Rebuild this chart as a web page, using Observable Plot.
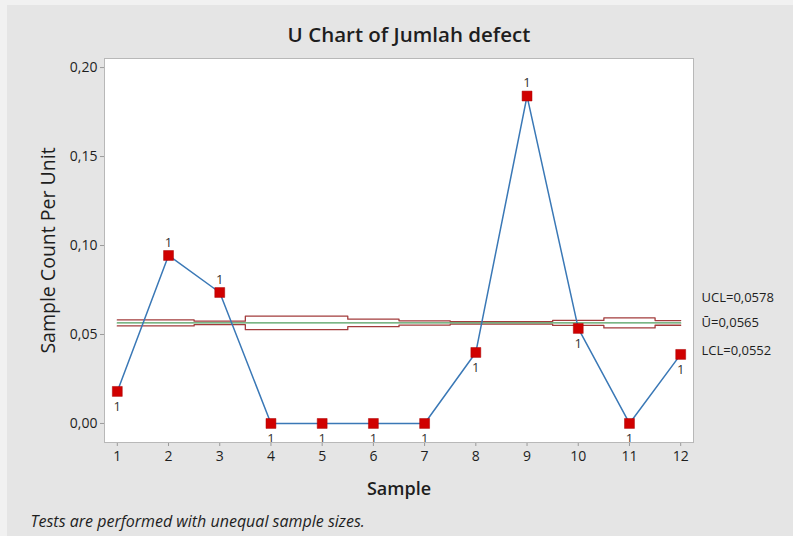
<!DOCTYPE html>
<html>
<head>
<meta charset="utf-8">
<script src="https://cdn.jsdelivr.net/npm/d3@7"></script>
<script src="https://cdn.jsdelivr.net/npm/@observablehq/plot@0.6"></script>
<style>
  html, body { margin: 0; padding: 0; background: #e5e5e5; }
  svg { display: block; }
</style>
</head>
<body>
<div id="chart"></div>
<script>
// ---- data ----
const samples = [1, 2, 3, 4, 5, 6, 7, 8, 9, 10, 11, 12];
const countPerUnit = [0.0180, 0.0944, 0.0736, 0, 0, 0, 0, 0.0399, 0.1840, 0.0534, 0, 0.0388];
const uclValues = [0.0582, 0.0582, 0.0575, 0.0603, 0.0603, 0.0586, 0.0577, 0.0572, 0.0572, 0.0579, 0.0593, 0.0578];
const lclValues = [0.0548, 0.0548, 0.0555, 0.0527, 0.0527, 0.0544, 0.0553, 0.0558, 0.0558, 0.0551, 0.0537, 0.0552];
const centerU = 0.0565;
const yTicks = [0, 0.05, 0.10, 0.15, 0.20];
const titleText = "U Chart of Jumlah defect";
const xLabel = "Sample";
const yLabel = "Sample Count Per Unit";
const captionText = "Tests are performed with unequal sample sizes.";

const fmt = (v, n) => v.toFixed(n).replace(".", ",");
const last = samples.length - 1;
const limitLabels = [
  {y: uclValues[last], text: "UCL=" + fmt(uclValues[last], 4), dy: -23},
  {y: centerU, text: "\u016A=" + fmt(centerU, 4), dy: 0},
  {y: lclValues[last], text: "LCL=" + fmt(lclValues[last], 4), dy: 26}
];

const textColor = "#1e1e1e";
const fontFamily = "'Open Sans', 'Noto Sans', sans-serif";

const chart = Plot.plot({
  width: 793,
  height: 536,
  marginLeft: 104,
  marginRight: 100,
  marginTop: 58,
  marginBottom: 94,
  style: {
    background: "linear-gradient(to right, #f1f1f1 7px, transparent 7px), linear-gradient(to bottom, #f1f1f1 5px, #e5e5e5 5px)",
    fontFamily: fontFamily,
    fontSize: "13px",
    color: textColor
  },
  x: {domain: [0.75, 12.25]},
  y: {domain: [-0.0107, 0.2051]},
  marks: [
    Plot.frame({fill: "white", stroke: null}),
    Plot.axisX({ticks: samples, tickFormat: d => String(d), tickSize: 4, tickPadding: 5, stroke: "#9a9a9a", fill: textColor, fontSize: 14, label: null}),
    Plot.axisY({ticks: yTicks, tickFormat: d => fmt(d, 2), tickSize: 4, tickPadding: 3, stroke: "#9a9a9a", fill: textColor, fontSize: 14, label: null}),
    // control limits (stepped, unequal sample sizes)
    Plot.line(samples, {x: d => d, y: (d, i) => uclValues[i], curve: "step", stroke: "#a23c3c", strokeWidth: 1.3}),
    Plot.line(samples, {x: d => d, y: (d, i) => lclValues[i], curve: "step", stroke: "#a23c3c", strokeWidth: 1.3}),
    Plot.line(samples, {x: d => d, y: () => centerU, stroke: "#4f9e5e", strokeWidth: 1.3}),
    // data
    Plot.line(samples, {x: d => d, y: (d, i) => countPerUnit[i], stroke: "#3a78b6", strokeWidth: 1.5}),
    Plot.dot(samples, {x: d => d, y: (d, i) => countPerUnit[i], symbol: "square", r: 5.6, fill: "#d00000", stroke: "#a80000", strokeWidth: 0.5}),
    // test failure labels
    Plot.text(samples, {filter: (d, i) => countPerUnit[i] > centerU, x: d => d, y: (d, i) => countPerUnit[i], text: () => "1", dy: -13, fontSize: 13, fill: "#333"}),
    Plot.text(samples, {filter: (d, i) => countPerUnit[i] < centerU, x: d => d, y: (d, i) => countPerUnit[i], text: () => "1", dy: 15, fontSize: 13, fill: "#333"}),
    Plot.frame({stroke: "#b8b8b8"}),
    // limit labels on the right
    ...limitLabels.map(l => Plot.text([l], {y: "y", text: "text", frameAnchor: "right", dx: 8, dy: l.dy, textAnchor: "start", lineAnchor: "middle", fontSize: 13, fill: textColor})),
    // titles
    Plot.text([titleText], {frameAnchor: "top", lineAnchor: "middle", textAnchor: "middle", dx: 10, dy: -23, fontSize: 20.5, fontWeight: "600", fill: textColor}),
    Plot.text([xLabel], {frameAnchor: "bottom", lineAnchor: "middle", textAnchor: "middle", dy: 47, fontSize: 18, fontWeight: "600", fill: textColor}),
    Plot.text([yLabel], {frameAnchor: "left", lineAnchor: "middle", textAnchor: "middle", dx: -56, rotate: -90, fontSize: 19.5, fill: textColor}),
    Plot.text([captionText], {frameAnchor: "bottom-left", lineAnchor: "middle", textAnchor: "start", dx: -74, dy: 79, fontStyle: "italic", fontSize: 16, fill: textColor})
  ]
});

document.getElementById("chart").appendChild(chart);
</script>
</body>
</html>
